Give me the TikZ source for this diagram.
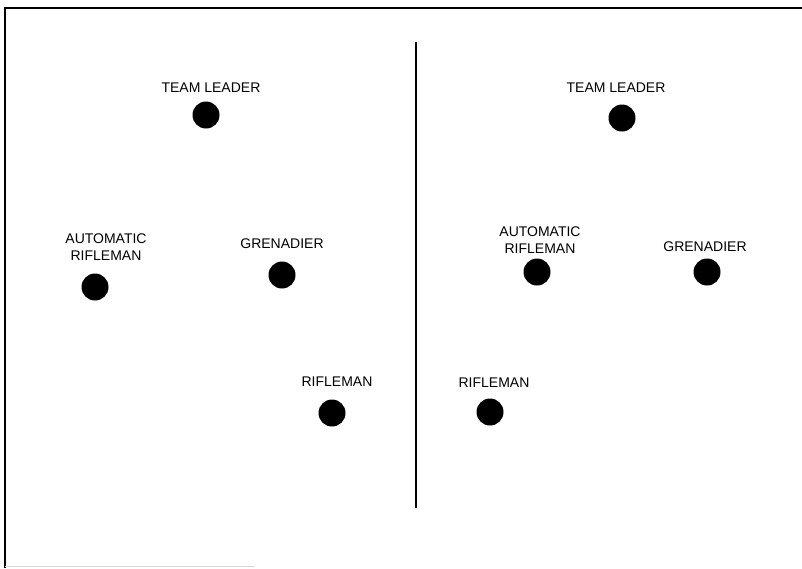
\documentclass[tikz,border=0pt]{standalone}
\usepackage{fontspec}
\setmainfont{Liberation Sans}
\usetikzlibrary{positioning}

\begin{document}
\begin{tikzpicture}[x=1pt, y=-1pt,
    soldier/.style={circle, fill=black, minimum size=27pt, inner sep=0pt},
    duty/.style={anchor=south, inner sep=0pt, align=center, font=\fontsize{14}{16.5}\selectfont},
    frameline/.style={line width=2.5pt, black}
  ]
  \useasboundingbox (0,0) rectangle (802,568);

  % frame and divider
  \draw[frameline] (5,568) -- (5,8) -- (802,8);
  \draw[gray!30, line width=1pt] (5,566) -- (255,566);
  \coordinate (divtop) at (416,42);
  \coordinate (divbot) at (416,508);
  \draw[line width=1.2pt] (divtop) -- (divbot);

  % left formation
  \node[soldier] (tlL) at (206,115) {};
  \node[soldier] (arL) at (95,287) {};
  \node[soldier] (grL) at (282,275) {};
  \node[soldier] (rfL) at (332,413) {};
  \node[duty, above=9pt of tlL, xshift=5pt] (tlLtxt) {TEAM LEADER};
  \node[duty, above=13pt of arL, xshift=11pt] (arLtxt) {AUTOMATIC\\RIFLEMAN};
  \node[duty, above=12pt of grL] (grLtxt) {GRENADIER};
  \node[duty, above=13pt of rfL, xshift=5pt] (rfLtxt) {RIFLEMAN};

  % right formation
  \node[soldier] (tlR) at (622,118) {};
  \node[soldier] (arR) at (537,272) {};
  \node[soldier] (grR) at (707,272) {};
  \node[soldier] (rfR) at (490,412) {};
  \node[duty, above=12pt of tlR, xshift=-6pt] (tlRtxt) {TEAM LEADER};
  \node[duty, above=5pt of arR, xshift=3pt] (arRtxt) {AUTOMATIC\\RIFLEMAN};
  \node[duty, above=6pt of grR, xshift=-2pt] (grRtxt) {GRENADIER};
  \node[duty, above=11pt of rfR, xshift=4pt] (rfRtxt) {RIFLEMAN};
\end{tikzpicture}
\end{document}
